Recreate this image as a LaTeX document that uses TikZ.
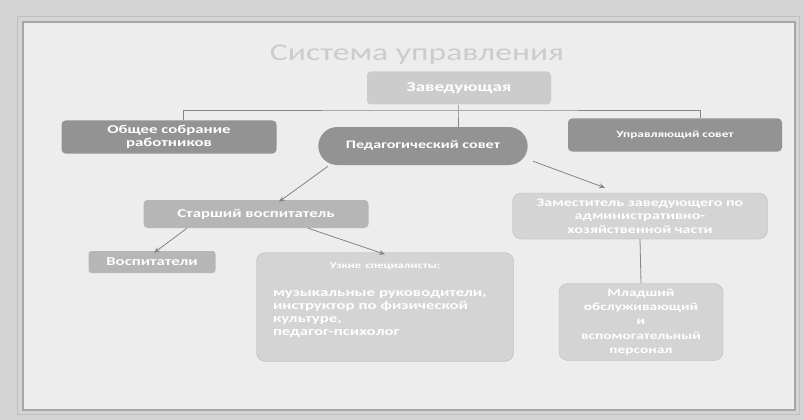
\documentclass[tikz,border=0pt]{standalone}
\usepackage{fontspec}
\setmainfont{Carlito}[FakeStretch=1.4]
\usetikzlibrary{shapes.misc,arrows.meta}
\definecolor{bgouter}{HTML}{D4D4D4}
\definecolor{bginner}{HTML}{EDEDED}
\definecolor{dark}{HTML}{939393}
\definecolor{mid}{HTML}{B6B6B6}
\definecolor{light}{HTML}{D4D4D4}
\definecolor{lineg}{HTML}{858585}
\newcommand{\fs}[2]{\bfseries\fontsize{#1}{#2}\selectfont}
\tikzset{
  box/.style={rectangle, rounded corners=4pt, text=white, font=\fs{12}{14}, align=center, inner sep=2pt, draw=none},
  darkbox/.style={box, fill=dark},
  midbox/.style={box, fill=mid},
  lightbox/.style={box, fill=light, draw=gray!55, rounded corners=9pt},
  conn/.style={draw=lineg, line width=0.8pt},
  arr/.style={conn, -{Stealth[length=6pt,width=5pt]}}
}
\begin{document}
\begin{tikzpicture}[x=1pt,y=-1pt]
\useasboundingbox (0,0) rectangle (804,420);
\fill[bgouter] (0,0) rectangle (804,420);
\fill[bginner] (23,22) rectangle (795,410);
\draw[gray!70, line width=1.2pt] (23,22) rectangle (795,410);
\draw[gray!50, line width=0.5pt] (17,16) rectangle (799,414);

\node[text=gray!40, font=\fontsize{24}{28}\selectfont] (title) at (417,55) {Система управления};

\node[box, fill=gray!40, minimum width=184pt, minimum height=33pt, font=\fs{13.5}{15}] (zav) at (459,88) {Заведующая};
\node[darkbox, minimum width=215pt, minimum height=33pt, font=\fs{12}{12.5}] (obsh) at (169,137) {Общее собрание\\работников};
\node[rounded rectangle, fill=dark, text=white, font=\fs{11.5}{14}, minimum width=216pt, minimum height=38pt] (ped) at (423,146) {Педагогический совет};
\node[darkbox, minimum width=214pt, minimum height=33pt, font=\fs{9.5}{12}] (upr) at (675,135) {Управляющий совет};
\node[midbox, minimum width=225pt, minimum height=28pt] (star) at (256,214) {Старший воспитатель};
\node[lightbox, minimum width=255pt, minimum height=46pt, font=\fs{11.5}{13.5}] (zam) at (640,216) {Заместитель заведующего по\\административно-\\хозяйственной части};
\node[midbox, minimum width=127pt, minimum height=22pt, rounded corners=3pt] (vosp) at (152,262) {Воспитатели};
\node[lightbox, minimum width=257pt, minimum height=109pt, text width=224pt, align=left, font=\fs{12}{12.8}] (uzk) at (385,307) {{\centering\fs{9}{11}Узкие специалисты:\par}\vspace{15pt}
музыкальные руководители,\\инструктор по физической\\культуре,\\педагог-психолог\par\vspace{14pt}};
\node[lightbox, minimum width=164pt, minimum height=77pt, font=\fs{11}{14.2}] (mlad) at (641,322) {Младший\\обслуживающий\\и\\вспомогательный\\персонал};

\coordinate (bus) at (458,110);
\draw[conn] (zav.south -| bus) -- (bus) -- (bus |- ped.north);
\draw[conn] ([xshift=14pt]obsh.north) |- (bus) -| ([xshift=25pt]upr.north);
\draw[arr] ([xshift=-95pt,yshift=-1pt]ped.south) -- ([xshift=23pt,yshift=-2pt]star.north);
\draw[arr] ([xshift=110pt,yshift=4pt]ped.south) -- ([xshift=-35pt,yshift=5pt]zam.north);
\draw[arr] ([xshift=-69pt]star.south) -- ([xshift=2pt,yshift=-2pt]vosp.north);
\draw[arr] ([xshift=52pt]star.south) -- ([yshift=-2pt]uzk.north);
\draw[conn] (zam.south) -- (mlad.north);
\end{tikzpicture}
\end{document}
